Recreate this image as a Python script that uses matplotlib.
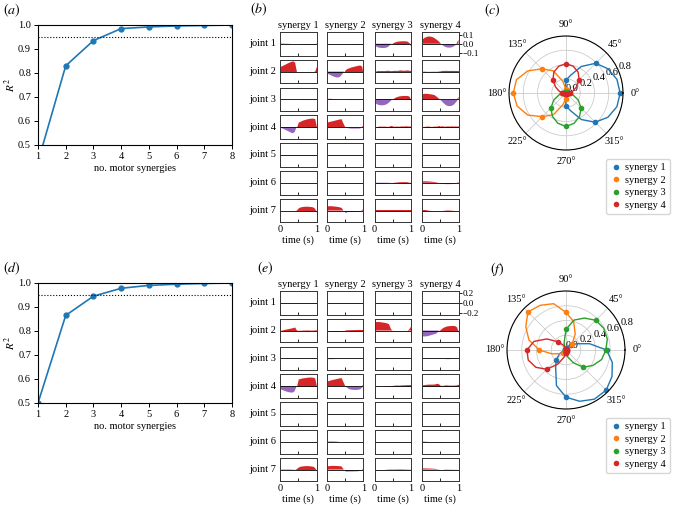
import numpy as np
import matplotlib.pyplot as plt

plt.rcParams['font.family'] = ['Liberation Serif', 'DejaVu Serif']
plt.rcParams['mathtext.fontset'] = 'stix'
plt.rcParams['font.size'] = 7.5
plt.rcParams['axes.linewidth'] = 0.8

# ---- data: explained variance vs number of synergies ----
n_syn = [1, 2, 3, 4, 5, 6, 7, 8]
r2_a = [0.43, 0.83, 0.935, 0.985, 0.992, 0.996, 0.998, 1.0]
r2_d = [0.50, 0.865, 0.945, 0.978, 0.990, 0.995, 0.998, 1.0]
r2_thresh = 0.95

# ---- data: synergy waveforms (21 samples over 1 s), one list per joint ----
time_s = np.linspace(0, 1, 21)
syn_names = ['synergy 1', 'synergy 2', 'synergy 3', 'synergy 4']
joint_names = ['joint 1', 'joint 2', 'joint 3', 'joint 4', 'joint 5', 'joint 6', 'joint 7']

b_j1 = [
    [0.003, 0.004, 0.003, 0.002, 0.002, 0.001, 0, 0, 0, 0, 0, -0.002, -0.003, -0.004, -0.004, -0.004, -0.004, -0.004, -0.004, -0.004, 0.005],
    [-0.001, -0.002, -0.002, -0.002, -0.002, -0.002, -0.002, -0.002, -0.002, -0.002, -0.002, -0.002, -0.002, -0.002, -0.003, -0.003, -0.003, -0.003, -0.003, -0.003, -0.002],
    [-0.02, -0.03, -0.04, -0.045, -0.047, -0.047, -0.045, -0.04, -0.025, -0.005, 0.01, 0.02, 0.027, 0.03, 0.032, 0.033, 0.033, 0.032, 0.028, 0.01, -0.03],
    [0.04, 0.06, 0.07, 0.078, 0.08, 0.078, 0.072, 0.06, 0.045, 0.03, 0.01, -0.01, -0.025, -0.033, -0.037, -0.037, -0.034, -0.025, -0.012, 0.005, 0.045],
]
b_j2 = [
    [0.055, 0.065, 0.075, 0.085, 0.095, 0.105, 0.113, 0.118, 0.105, 0.0, 0, 0, 0, 0, 0, 0, 0, 0, 0, 0.005, 0.06],
    [-0.02, -0.03, -0.04, -0.05, -0.058, -0.064, -0.066, -0.06, -0.04, -0.01, 0.02, 0.035, 0.042, 0.05, 0.055, 0.06, 0.065, 0.07, 0.072, 0.06, -0.05],
    [0.0, 0.008, 0.012, 0.01, 0.012, 0.01, 0.012, 0.015, 0.012, 0.01, 0.012, 0.014, 0.012, 0.015, 0.018, 0.016, 0.014, 0.016, 0.018, 0.014, 0.012],
    [0.003, 0.004, 0.003, 0.002, 0.002, 0.003, 0.003, 0.003, 0.003, 0.005, 0.008, 0.012, 0.012, 0.014, 0.012, 0.012, 0.013, 0.012, 0.012, 0.012, 0.01],
]
b_j3 = [
    [0.001, 0.001, 0.001, 0, 0, 0, 0, 0, 0, 0, -0.001, -0.002, -0.002, -0.002, -0.002, -0.002, -0.002, -0.002, -0.002, -0.002, -0.001],
    [0.002, 0.006, 0.006, 0.004, 0.002, 0.001, 0, 0, 0, 0, -0.001, -0.002, -0.002, -0.002, -0.002, -0.002, -0.002, -0.002, -0.002, -0.001, 0.001],
    [-0.035, -0.05, -0.06, -0.065, -0.066, -0.065, -0.06, -0.05, -0.035, -0.015, 0.005, 0.02, 0.03, 0.036, 0.04, 0.042, 0.043, 0.043, 0.042, 0.035, -0.02],
    [0.05, 0.06, 0.062, 0.06, 0.058, 0.055, 0.052, 0.045, 0.03, 0.012, -0.005, -0.025, -0.045, -0.06, -0.068, -0.07, -0.066, -0.055, -0.035, -0.01, 0.03],
]
b_j4 = [
    [-0.005, -0.012, -0.02, -0.03, -0.04, -0.05, -0.06, -0.067, -0.055, -0.005, 0.055, 0.065, 0.075, 0.082, 0.088, 0.093, 0.097, 0.1, 0.1, 0.095, 0.0],
    [0.05, 0.055, 0.06, 0.065, 0.07, 0.075, 0.08, 0.085, 0.088, 0.04, 0.0, -0.005, -0.008, -0.01, -0.01, -0.01, -0.01, -0.01, -0.008, 0.0, 0.02],
    [0.0, 0.005, 0.01, 0.012, 0.01, 0.012, 0.01, 0.008, 0.01, 0.02, 0.012, 0.01, 0.012, 0.01, 0.012, 0.014, 0.012, 0.015, 0.013, 0.012, 0.012],
    [0.0, 0.008, 0.01, 0.012, 0.01, 0.008, 0.01, 0.012, 0.01, 0.018, 0.012, 0.015, 0.01, 0.012, 0.013, 0.012, 0.014, 0.012, 0.013, 0.012, 0.012],
]
b_j5 = [
    [-0.002, -0.003, -0.003, -0.003, -0.003, -0.003, -0.003, -0.003, -0.003, -0.003, -0.003, -0.003, -0.003, -0.003, -0.003, -0.003, -0.003, -0.003, -0.003, -0.003, -0.002],
    [0.001, 0.002, 0.002, 0.002, 0.002, 0.002, 0.002, 0.002, 0.002, 0.002, 0.002, 0.002, 0.002, 0.002, 0.002, 0.002, 0.002, 0.002, 0.002, 0.002, 0.001],
    [0.001, 0.001, 0.001, 0.001, 0.001, 0.001, 0.001, 0.001, 0.001, 0.001, 0.001, 0.001, 0.001, 0.001, 0.001, 0.001, 0.001, 0.001, 0.001, 0.001, 0.001],
    [-0.002, -0.003, -0.003, -0.003, -0.003, -0.003, -0.003, -0.003, -0.003, -0.003, -0.003, -0.003, -0.003, -0.003, -0.003, -0.003, -0.003, -0.003, -0.003, -0.003, -0.002],
]
b_j6 = [
    [0.002, 0.002, 0.002, 0.002, 0.002, 0.002, 0.002, 0.002, 0.002, 0.002, 0.002, 0.002, 0.002, 0.002, 0.002, 0.002, 0.002, 0.002, 0.002, 0.002, 0.002],
    [0.002, 0.002, 0.002, 0.002, 0.002, 0.002, 0.002, 0.002, 0.002, 0.002, 0.001, 0.001, 0.001, 0.001, 0.001, 0.001, 0.001, 0.001, 0.001, 0.001, 0.002],
    [-0.01, -0.01, -0.01, -0.01, -0.009, -0.008, -0.007, -0.005, -0.003, 0.0, 0.004, 0.006, 0.008, 0.01, 0.011, 0.012, 0.012, 0.012, 0.01, 0.005, -0.015],
    [0.015, 0.016, 0.016, 0.015, 0.014, 0.012, 0.01, 0.008, 0.005, 0.0, -0.004, -0.007, -0.009, -0.01, -0.01, -0.01, -0.009, -0.007, -0.004, 0.0, 0.01],
]
b_j7 = [
    [0.0, 0.0, 0.0, 0.0, 0.0, 0.0, 0.0, 0.0, 0.0, 0.005, 0.03, 0.04, 0.044, 0.047, 0.048, 0.048, 0.046, 0.044, 0.04, 0.025, -0.03],
    [0.045, 0.048, 0.048, 0.047, 0.045, 0.043, 0.04, 0.035, 0.03, 0.0, -0.022, -0.012, -0.01, -0.01, -0.01, -0.01, -0.01, -0.008, -0.005, 0.005, 0.015],
    [0.002, 0.002, 0.002, 0.002, 0.002, 0.002, 0.002, 0.002, 0.002, 0.002, 0.002, 0.002, 0.002, 0.002, 0.002, 0.002, 0.002, 0.002, 0.002, 0.002, 0.002],
    [0.01, 0.012, 0.01, 0.005, 0.002, 0.001, 0, 0, 0, 0, 0, 0, 0.003, 0.005, 0.006, 0.005, 0.004, 0.002, 0, 0, 0],
]

e_j1 = [
    [0.002, 0.003, 0.003, 0.003, 0.003, 0.003, 0.003, 0.003, 0.003, 0.003, 0.003, 0.003, 0.003, 0.003, 0.003, 0.003, 0.003, 0.003, 0.003, 0.003, 0.005],
    [0.003, 0.004, 0.004, 0.004, 0.004, 0.004, 0.004, 0.004, 0.004, 0.004, 0.004, 0.004, 0.004, 0.004, 0.004, 0.004, 0.004, 0.004, 0.004, 0.004, 0.004],
    [0.001, 0.001, 0.001, 0.001, 0.001, 0.001, 0.001, 0.001, 0.001, 0.001, 0.001, 0.001, 0.001, 0.001, 0.001, 0.001, 0.001, 0.001, 0.001, 0.001, 0.001],
    [0.001, 0.001, 0.001, 0.001, 0.001, 0.001, 0.001, 0.001, 0.001, 0.002, 0.004, 0.002, 0.001, 0.001, 0.001, 0.001, 0.001, 0.001, 0.001, 0.001, 0.002],
]
e_j2 = [
    [0.0, 0.01, 0.02, 0.028, 0.035, 0.042, 0.05, 0.058, 0.07, 0.01, 0.005, 0.006, 0.008, 0.01, 0.01, 0.012, 0.01, 0.008, 0.01, 0.012, 0.015],
    [-0.005, -0.01, -0.012, -0.014, -0.015, -0.015, -0.014, -0.013, -0.01, -0.005, 0.012, 0.015, 0.016, 0.018, 0.018, 0.02, 0.02, 0.022, 0.022, 0.02, 0.025],
    [0.15, 0.165, 0.168, 0.165, 0.16, 0.155, 0.148, 0.14, 0.12, 0.03, -0.005, -0.008, -0.008, -0.006, -0.005, -0.005, -0.004, -0.003, 0.0, 0.02, 0.075],
    [-0.11, -0.115, -0.115, -0.11, -0.1, -0.09, -0.08, -0.07, -0.055, -0.02, 0.02, 0.05, 0.07, 0.085, 0.093, 0.097, 0.1, 0.1, 0.095, 0.07, -0.06],
]
e_j3 = [
    [-0.002, -0.003, -0.003, -0.003, -0.003, -0.003, -0.003, -0.003, -0.003, -0.003, -0.002, -0.002, -0.002, -0.002, -0.002, -0.002, -0.002, -0.002, -0.002, -0.002, -0.002],
    [-0.004, -0.006, -0.006, -0.005, -0.004, -0.002, -0.001, 0, 0, 0, 0, 0, 0, 0, 0, 0, 0, 0, 0, 0, 0],
    [-0.012, -0.008, -0.003, 0, 0, 0, 0, 0, 0, 0, 0, 0, 0, 0, 0, 0, 0, 0, 0, 0, 0],
    [0, 0, 0, 0, 0, 0, 0, 0, 0, 0, 0, 0, -0.003, -0.005, -0.006, -0.005, -0.003, 0, 0, 0, 0],
]
e_j4 = [
    [-0.055, -0.07, -0.085, -0.1, -0.11, -0.12, -0.125, -0.125, -0.1, -0.01, 0.14, 0.15, 0.16, 0.165, 0.17, 0.175, 0.178, 0.178, 0.175, 0.16, 0.0],
    [0.09, 0.1, 0.11, 0.12, 0.128, 0.136, 0.145, 0.152, 0.158, 0.08, 0.0, -0.03, -0.05, -0.058, -0.062, -0.064, -0.064, -0.06, -0.05, -0.02, 0.05],
    [0.0, 0.0, 0.0, 0.0, 0.0, 0.005, 0.008, 0.01, 0.01, 0.012, 0.015, 0.02, 0.022, 0.02, 0.022, 0.025, 0.025, 0.028, 0.03, 0.03, 0.032],
    [0.025, 0.03, 0.035, 0.038, 0.04, 0.04, 0.04, 0.045, 0.055, 0.05, 0.015, 0.015, 0.02, 0.025, 0.022, 0.02, 0.02, 0.02, 0.022, 0.025, 0.04],
]
e_j5 = [
    [0, 0, 0, 0, 0, 0, 0, 0, 0.003, 0.005, 0.003, 0, 0, 0, 0, 0, 0, 0, 0, 0, 0],
    [0.001, 0.001, 0.001, 0.001, 0.001, 0.001, 0.001, 0.001, 0.001, 0.001, 0.001, 0.001, 0.001, 0.001, 0.001, 0.001, 0.001, 0.001, 0.001, 0.001, 0.001],
    [0, 0, 0, 0, 0, 0, 0, 0, -0.002, -0.003, -0.004, -0.004, -0.004, -0.004, -0.004, -0.004, -0.004, -0.003, -0.002, 0, 0],
    [0.005, 0.006, 0.004, 0.002, 0, 0, 0, 0, 0, 0, 0, 0, 0, 0, 0, 0, 0, 0, 0, 0, 0],
]
e_j6 = [
    [0, 0, 0, 0, 0, 0, 0, 0, 0, 0, 0.003, 0.004, 0.004, 0.004, 0.004, 0.004, 0.003, 0, 0, 0, -0.004],
    [0.006, 0.008, 0.008, 0.008, 0.007, 0.006, 0.003, 0, 0, 0, -0.004, -0.005, -0.006, -0.006, -0.006, -0.005, -0.004, -0.002, 0, 0, 0],
    [0, 0, 0, 0, 0, 0, 0, 0, 0, 0, 0, 0, 0, 0, 0, 0, 0, 0, 0, 0, 0],
    [0.004, 0.006, 0.004, 0.001, 0, 0, 0, 0, 0, 0, -0.006, -0.008, -0.004, 0, 0, 0, 0, 0, 0, 0, 0],
]
e_j7 = [
    [-0.005, -0.008, -0.01, -0.01, -0.01, -0.01, -0.008, -0.006, -0.004, 0.02, 0.05, 0.065, 0.07, 0.075, 0.077, 0.077, 0.075, 0.07, 0.065, 0.04, -0.04],
    [0.06, 0.065, 0.07, 0.072, 0.072, 0.07, 0.068, 0.065, 0.06, 0.01, -0.03, -0.03, -0.028, -0.028, -0.027, -0.026, -0.025, -0.022, -0.015, 0.0, 0.02],
    [0, 0, 0, 0, 0, 0, 0.004, 0.006, 0.008, 0.008, 0.008, 0.008, 0.01, 0.01, 0.01, 0.01, 0.008, 0.008, 0.006, 0.005, 0.004],
    [0.02, 0.022, 0.022, 0.02, 0.02, 0.018, 0.016, 0.015, 0.01, 0.005, 0.0, -0.005, 0.004, 0.005, 0.005, 0.004, 0.004, 0.003, 0.003, 0.002, 0.002],
]

# ---- data: directional tuning (radius every 15 degrees) ----
tune_deg = list(range(0, 360, 15))
c_syn1 = [0.76, 0.74, 0.68, 0.59, 0.43, 0.26, 0.18, 0.03, 0.01, 0.01, 0.0, 0.0, 0.0, 0.0, 0.0, 0.01, 0.01, 0.03, 0.18, 0.26, 0.43, 0.58, 0.68, 0.74]
c_syn2 = [0.01, 0.01, 0.01, 0.01, 0.01, 0.02, 0.05, 0.17, 0.36, 0.48, 0.62, 0.72, 0.74, 0.71, 0.62, 0.47, 0.35, 0.17, 0.08, 0.03, 0.01, 0.01, 0.01, 0.01]
c_syn3 = [0.05, 0.02, 0.01, 0.01, 0.01, 0.01, 0.01, 0.01, 0.01, 0.01, 0.01, 0.02, 0.05, 0.10, 0.20, 0.30, 0.38, 0.44, 0.47, 0.44, 0.38, 0.30, 0.20, 0.10]
c_syn4 = [0.05, 0.10, 0.17, 0.26, 0.34, 0.39, 0.41, 0.39, 0.34, 0.26, 0.17, 0.10, 0.05, 0.02, 0.01, 0.01, 0.01, 0.01, 0.01, 0.01, 0.01, 0.01, 0.01, 0.02]

f_syn1 = [0.55, 0.33, 0.17, 0.10, 0.06, 0.04, 0.03, 0.02, 0.02, 0.02, 0.02, 0.02, 0.02, 0.03, 0.10, 0.19, 0.28, 0.50, 0.64, 0.72, 0.77, 0.77, 0.72, 0.65]
f_syn2 = [0.02, 0.02, 0.05, 0.12, 0.25, 0.40, 0.51, 0.65, 0.70, 0.73, 0.63, 0.52, 0.36, 0.20, 0.10, 0.05, 0.03, 0.02, 0.02, 0.02, 0.02, 0.02, 0.02, 0.02]
f_syn3 = [0.54, 0.58, 0.59, 0.57, 0.50, 0.42, 0.28, 0.10, 0.03, 0.02, 0.02, 0.02, 0.02, 0.02, 0.02, 0.02, 0.02, 0.02, 0.04, 0.10, 0.20, 0.33, 0.42, 0.50]
f_syn4 = [0.02, 0.02, 0.02, 0.02, 0.02, 0.02, 0.02, 0.03, 0.08, 0.16, 0.30, 0.45, 0.53, 0.53, 0.47, 0.37, 0.22, 0.10, 0.04, 0.02, 0.02, 0.02, 0.02, 0.02]

tab_colors = ['#1f77b4', '#ff7f0e', '#2ca02c', '#d62728']
pos_color = '#d62728'
neg_color = '#9467bd'

W, H = 678, 505
fig = plt.figure(figsize=(W / 100, H / 100), dpi=100)


def box(left, top, w, h):
    # pixel box -> figure fraction
    return [left / W, 1 - (top + h) / H, w / W, h / H]


def r2_panel(top, vals, label):
    ax = fig.add_axes(box(38, top, 194, 120))
    ax.plot(n_syn, vals, '-o', color=tab_colors[0], lw=1.2, ms=3.5)
    ax.axhline(r2_thresh, color='k', ls=':', lw=0.8)
    ax.set_xlim(1, 8)
    ax.set_ylim(0.5, 1.0)
    ax.set_xticks(n_syn)
    ax.set_yticks([0.5, 0.6, 0.7, 0.8, 0.9, 1.0])
    ax.tick_params(labelsize=7.5, length=3, width=0.7, pad=2)
    ax.set_xlabel('no. motor synergies', fontsize=7.5, labelpad=2)
    ax.set_ylabel('$R^2$', fontsize=8)
    ax.yaxis.set_label_coords(-0.105, 0.5)
    fig.text(3 / W, 1 - (top - 15) / H, label, fontsize=10, va='center', ha='left')


def grid_panel(rows, top0, lim, ticks, ticklabels, label, label_x):
    col_left = [280, 327, 374.5, 422]
    for j, row in enumerate(rows):
        for k, vals in enumerate(row):
            ax = fig.add_axes(box(col_left[k], top0 + j * 27.8, 36.5, 23.5))
            y = np.array(vals)
            ax.fill_between(time_s, y, 0, where=y >= 0, interpolate=True, color=pos_color, lw=0)
            ax.fill_between(time_s, y, 0, where=y <= 0, interpolate=True, color=neg_color, lw=0)
            ax.axhline(0, color='k', lw=0.6)
            ax.set_xlim(0, 1)
            ax.set_ylim(-lim, lim)
            ax.set_xticks([0, 0.5, 1])
            ax.tick_params(axis='x', direction='in', length=2, width=0.6, pad=2, labelsize=7.5)
            if j == len(rows) - 1:
                ax.set_xticklabels(['0', '', '1'])
                ax.set_xlabel('time (s)', fontsize=7.5, labelpad=1)
            else:
                ax.set_xticklabels([])
            if j == 0 and k == 3:
                ax.yaxis.tick_right()
                ax.set_yticks(ticks)
                ax.set_yticklabels(ticklabels)
                ax.tick_params(axis='y', length=2, width=0.6, pad=1, labelsize=6.5)
            else:
                ax.set_yticks([])
            if j == 0:
                ax.set_title(syn_names[k], fontsize=7.5, pad=3)
            if k == 0:
                ax.text(-0.1, 0.5, joint_names[j], transform=ax.transAxes,
                        ha='right', va='center', fontsize=7.5)
            for s in ax.spines.values():
                s.set_color('#333333')
                s.set_linewidth(0.7)
    fig.text(label_x / W, 1 - (top0 - 23) / H, label, fontsize=10, va='center', ha='left')


def polar_panel(rect, curves, label, label_xy, legend_top):
    ax = fig.add_axes(rect, projection='polar')
    th = np.deg2rad(tune_deg + [360])
    for k, r in enumerate(curves):
        ax.plot(th, r + [r[0]], color=tab_colors[k], lw=1)
        ax.plot(th[:-1][::3], r[::3], 'o', color=tab_colors[k], ms=3, label=syn_names[k])
    ax.set_rlim(0, 0.8)
    ax.set_rticks([0.0, 0.2, 0.4, 0.6, 0.8])
    ax.set_yticklabels(['0.0', '0.2', '0.4', '0.6', '0.8'])
    ax.set_rlabel_position(22.5)
    ax.tick_params(labelsize=7.5, pad=1)
    ax.tick_params(axis='x', pad=-2)
    ax.grid(color='#cccccc', lw=0.6)
    ax.spines['polar'].set_linewidth(0.8)
    fig.text(label_xy[0] / W, 1 - label_xy[1] / H, label, fontsize=10, va='center', ha='left')
    ax.legend(loc='upper left', bbox_to_anchor=(606 / W, 1 - legend_top / H),
              bbox_transform=fig.transFigure, fontsize=7.5, handletextpad=0.2,
              borderpad=0.4, labelspacing=0.3, handlelength=1.2, borderaxespad=0)


r2_panel(25, r2_a, '$(a)$')
r2_panel(283, r2_d, '$(d)$')

grid_panel([b_j1, b_j2, b_j3, b_j4, b_j5, b_j6, b_j7], 32, 0.13,
           [0.1, 0.0, -0.1], ['0.1', '0.0', '\u22120.1'], '$(b)$', 250)
grid_panel([e_j1, e_j2, e_j3, e_j4, e_j5, e_j6, e_j7], 291, 0.23,
           [0.2, 0.0, -0.2], ['0.2', '0.0', '\u22120.2'], '$(e)$', 257)

polar_panel(box(509, 36, 114, 114), [c_syn1, c_syn2, c_syn3, c_syn4], '$(c)$', (484, 10), 159)
polar_panel(box(507, 291, 118, 118), [f_syn1, f_syn2, f_syn3, f_syn4], '$(f)$', (490, 269), 418)

fig.savefig('out.png', dpi=100)
